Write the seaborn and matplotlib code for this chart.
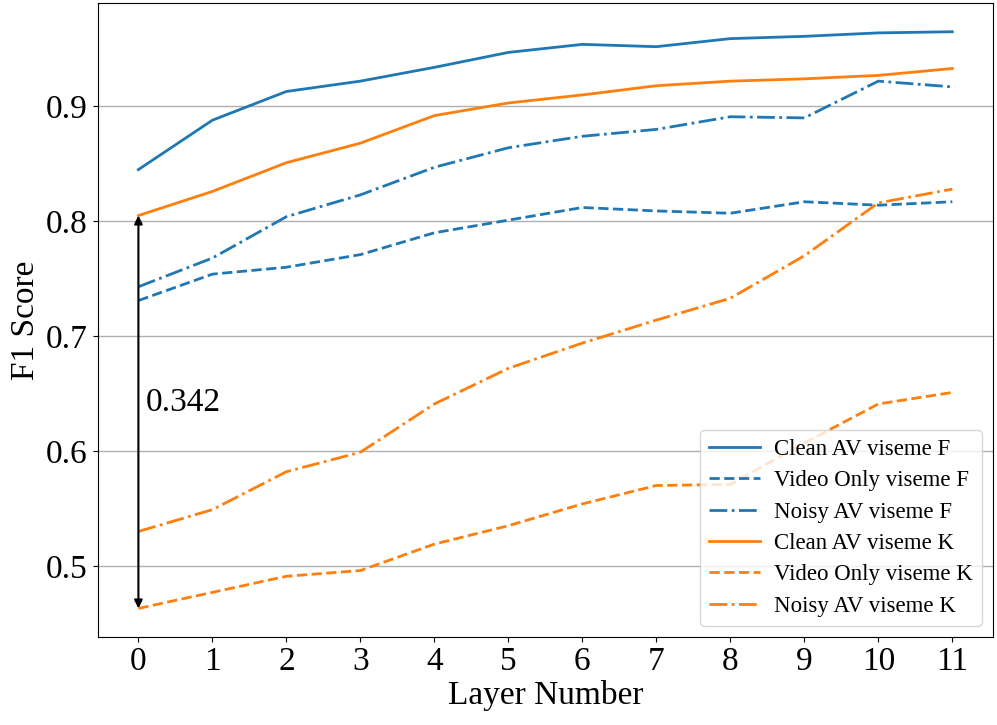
import numpy as np
import pandas as pd
import matplotlib
matplotlib.use("Agg")
import matplotlib.pyplot as plt
import seaborn as sns

layers = list(range(12))

clean_f = [0.845, 0.888, 0.913, 0.922, 0.934, 0.947, 0.954, 0.952, 0.959, 0.961, 0.964, 0.965]
video_f = [0.731, 0.754, 0.760, 0.771, 0.790, 0.801, 0.812, 0.809, 0.807, 0.817, 0.814, 0.817]
noisy_f = [0.743, 0.768, 0.804, 0.823, 0.847, 0.864, 0.874, 0.880, 0.891, 0.890, 0.922, 0.917]
clean_k = [0.805, 0.826, 0.851, 0.868, 0.892, 0.903, 0.910, 0.918, 0.922, 0.924, 0.927, 0.933]
video_k = [0.463, 0.477, 0.491, 0.496, 0.519, 0.535, 0.554, 0.570, 0.571, 0.607, 0.641, 0.651]
noisy_k = [0.530, 0.549, 0.582, 0.599, 0.641, 0.672, 0.694, 0.714, 0.733, 0.770, 0.816, 0.828]

gap_label = "0.342"

series = [
    ("Clean AV viseme F", clean_f, "#1f77b4", "-"),
    ("Video Only viseme F", video_f, "#1f77b4", "--"),
    ("Noisy AV viseme F", noisy_f, "#1f77b4", "-."),
    ("Clean AV viseme K", clean_k, "#ff7f0e", "-"),
    ("Video Only viseme K", video_k, "#ff7f0e", "--"),
    ("Noisy AV viseme K", noisy_k, "#ff7f0e", "-."),
]

plt.rcParams['font.family'] = ['Liberation Serif', 'DejaVu Serif']

fig, ax = plt.subplots(figsize=(9.97, 7.25), dpi=100)
fig.subplots_adjust(left=0.098, right=0.996, top=0.996, bottom=0.121)

for name, vals, color, ls in series:
    df = pd.DataFrame({"layer": layers, "f1": vals})
    sns.lineplot(data=df, x="layer", y="f1", ax=ax, color=color, linestyle=ls,
                 linewidth=2, label=name)

# gap between clean K and video-only K at layer 0
ax.annotate("", xy=(0, video_k[0]), xytext=(0, clean_k[0]),
            arrowprops=dict(arrowstyle="<|-|>", color="black", lw=1.5,
                            mutation_scale=12, shrinkA=0, shrinkB=0))
ax.text(0.1, (clean_k[0] + video_k[0]) / 2 + 0.008, gap_label, fontsize=24,
        va="center", ha="left")

ax.set_xticks(layers)
ax.set_yticks([0.5, 0.6, 0.7, 0.8, 0.9])
ax.tick_params(labelsize=24)
ax.set_xlabel("Layer Number", fontsize=24, labelpad=2)
ax.set_ylabel("F1 Score", fontsize=24)
ax.grid(axis="y", color="#b0b0b0", linewidth=1)
ax.set_axisbelow(True)

ax.legend(loc="lower right", fontsize=16.5, handlelength=2.2, labelspacing=0.45,
          handletextpad=0.6)

plt.savefig("out.png", dpi=100)
plt.close()
